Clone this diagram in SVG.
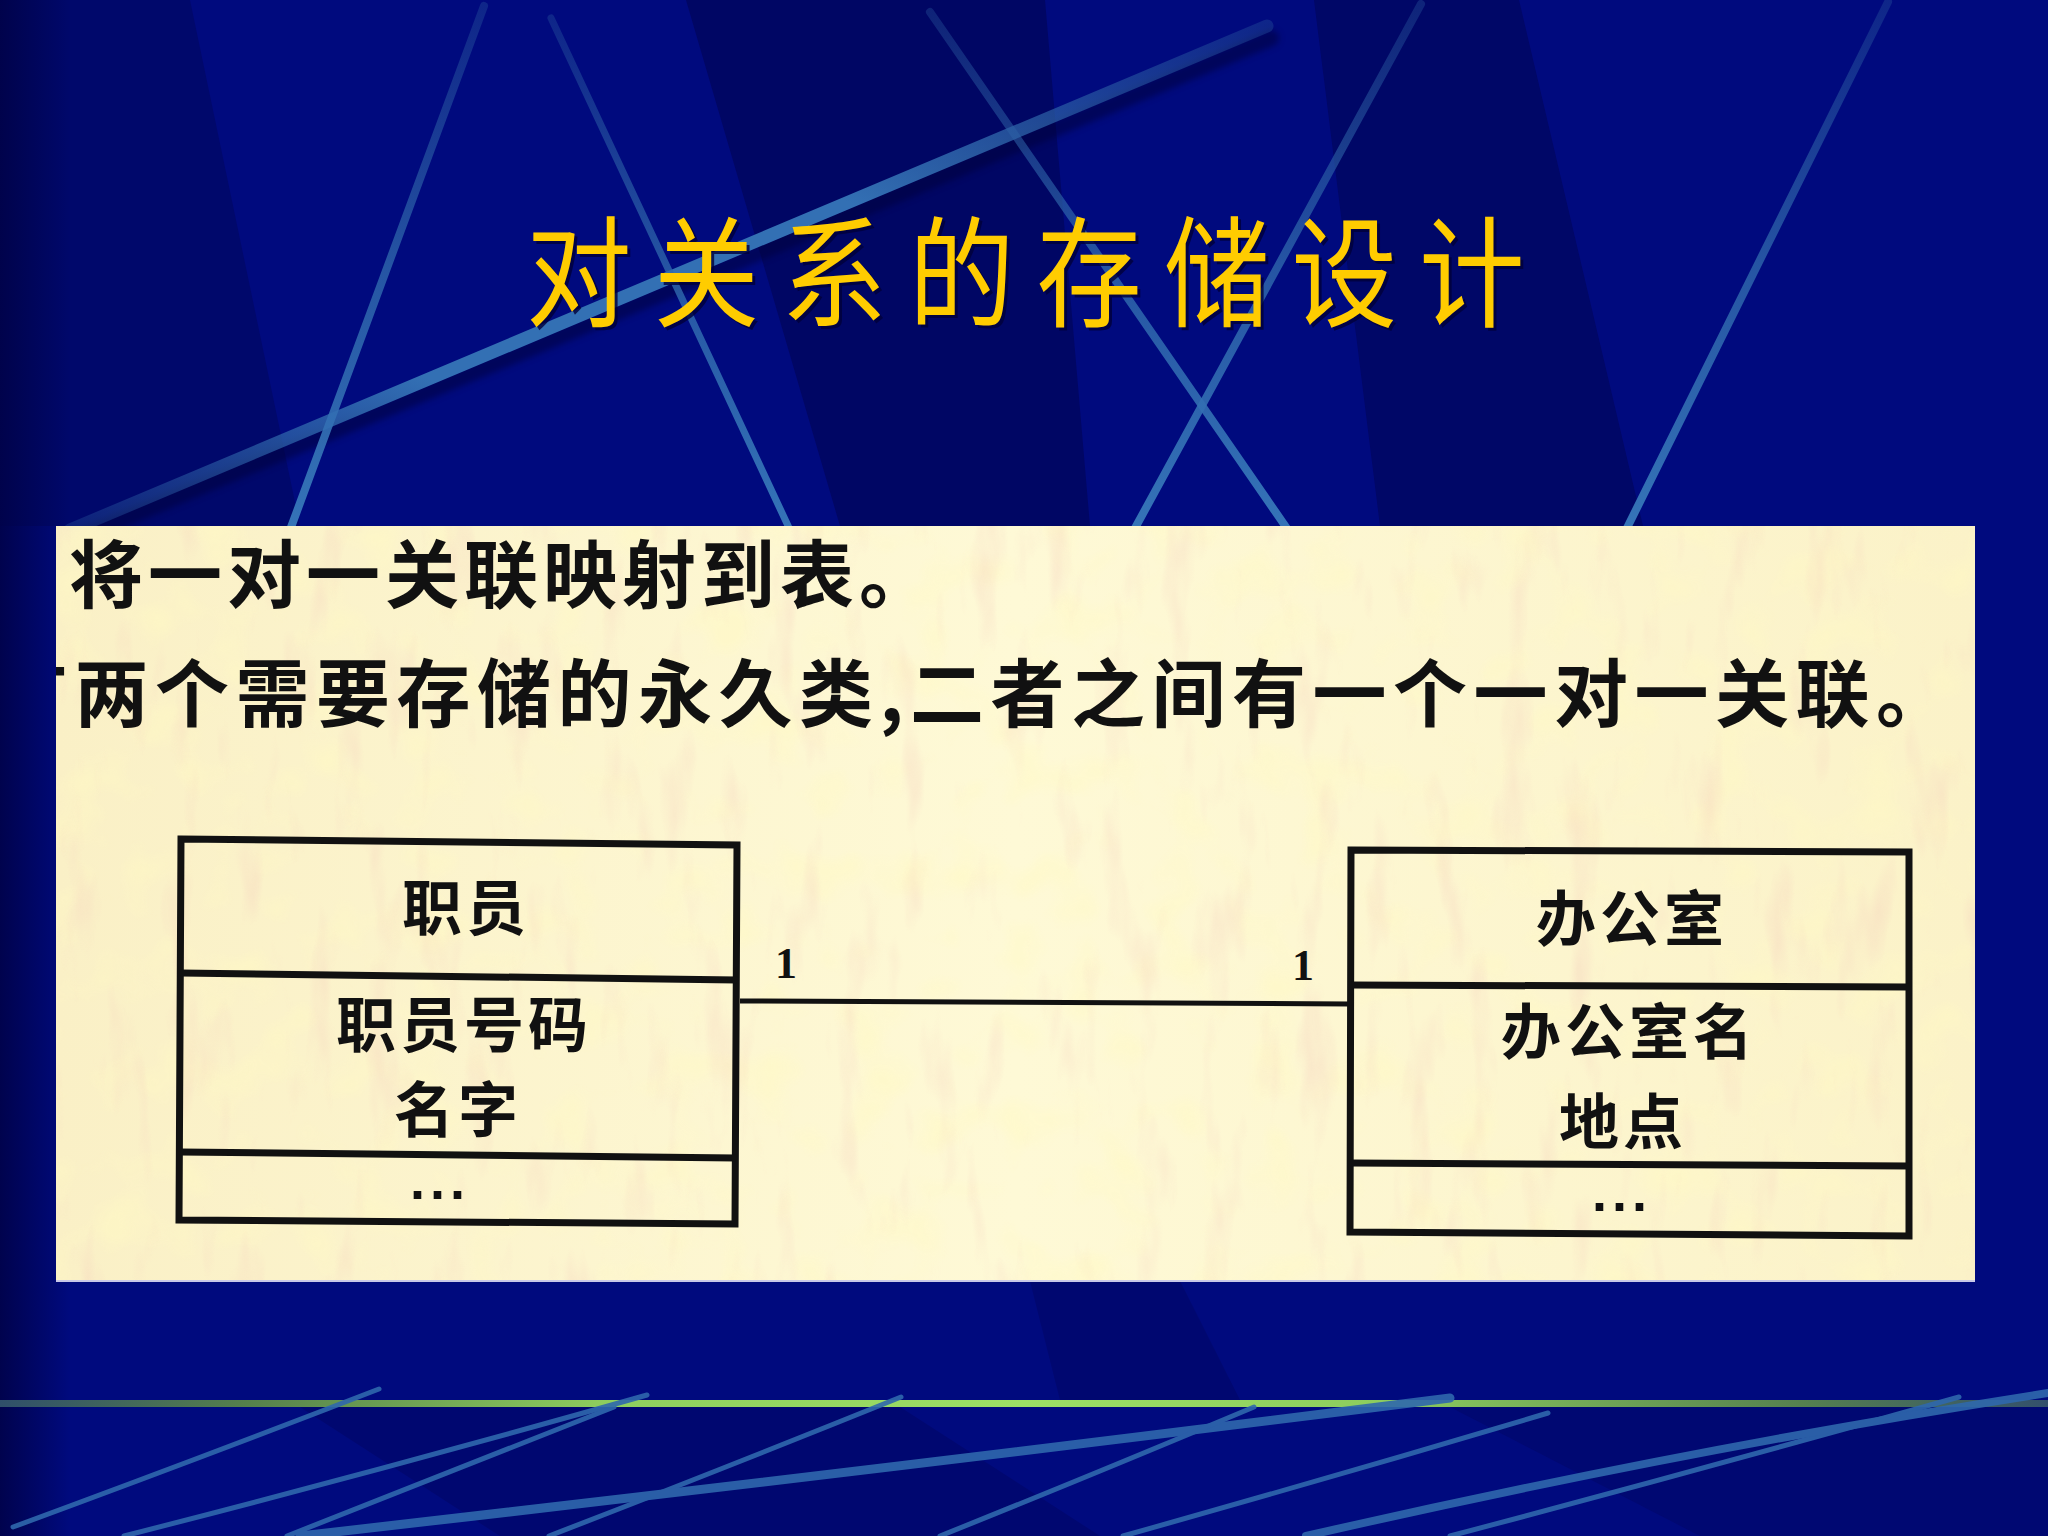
<svg xmlns="http://www.w3.org/2000/svg" width="2048" height="1536" viewBox="0 0 2048 1536">
<defs>
  <style>
    .bgline { fill: none; stroke-linecap: round; }
    .cn { font-family: "Noto Sans CJK SC", "Noto Sans", sans-serif; font-weight: 700; fill: #111; }
    .box { fill: none; stroke: #111; stroke-width: 7; stroke-linejoin: miter; }
    .div { stroke: #111; stroke-width: 7; }
    .attr { font-family: "Noto Sans CJK SC", sans-serif; font-weight: 700; font-size: 60px; fill: #111; text-anchor: middle; letter-spacing: 4px; }
    .mult { font-family: "Liberation Serif", serif; font-weight: 700; font-size: 44px; fill: #111; text-anchor: middle; }
    .dots { font-family: "Liberation Sans", sans-serif; font-weight: 700; font-size: 54px; fill: #111; text-anchor: middle; letter-spacing: 5px; }
    .title { font-family: "Noto Sans CJK SC", sans-serif; font-weight: 400; font-size: 120px; letter-spacing: 25px; }
  </style>
  <linearGradient id="vline" x1="0" y1="0" x2="0" y2="1">
    <stop offset="0" stop-color="#2a5a9e" stop-opacity="0.35"/>
    <stop offset="0.5" stop-color="#2f68ad" stop-opacity="0.8"/>
    <stop offset="1" stop-color="#3574b8"/>
  </linearGradient>
  <linearGradient id="thick" x1="1" y1="0" x2="0" y2="1">
    <stop offset="0" stop-color="#2a5a9e" stop-opacity="0.35"/>
    <stop offset="0.35" stop-color="#3370b4"/>
    <stop offset="0.7" stop-color="#3370b4"/>
    <stop offset="1" stop-color="#2a5a9e" stop-opacity="0.3"/>
  </linearGradient>
  <linearGradient id="green" x1="0" y1="0" x2="1" y2="0">
    <stop offset="0" stop-color="#2f4f6a"/>
    <stop offset="0.12" stop-color="#55804c"/>
    <stop offset="0.3" stop-color="#8fcf5e"/>
    <stop offset="0.5" stop-color="#9de065"/>
    <stop offset="0.68" stop-color="#8ccc5e"/>
    <stop offset="0.88" stop-color="#55804f"/>
    <stop offset="1" stop-color="#33506c"/>
  </linearGradient>
  <linearGradient id="bandL" x1="0" y1="0" x2="1" y2="0">
    <stop offset="0" stop-color="#000248" stop-opacity="0.9"/>
    <stop offset="1" stop-color="#000248" stop-opacity="0"/>
  </linearGradient>
  <linearGradient id="paperg" x1="0" y1="0" x2="1" y2="0">
    <stop offset="0" stop-color="#faf0c6"/>
    <stop offset="0.5" stop-color="#fef9d6"/>
    <stop offset="1" stop-color="#fbf2c8"/>
  </linearGradient>
  <filter id="paper" x="0" y="0" width="100%" height="100%">
    <feTurbulence type="fractalNoise" baseFrequency="0.03 0.008" numOctaves="3" seed="7" result="n"/>
    <feColorMatrix in="n" type="matrix" values="0 0 0 0 0.9  0 0 0 0 0.6  0 0 0 0 0.5  3.2 0 0 0 -1.8"/>
  </filter>
  <filter id="paper2" x="0" y="0" width="100%" height="100%">
    <feTurbulence type="fractalNoise" baseFrequency="0.02 0.02" numOctaves="2" seed="3" result="n"/>
    <feColorMatrix in="n" type="matrix" values="0 0 0 0 1  0 0 0 0 0.95  0 0 0 0 0.55  0 3 0 0 -1.5"/>
  </filter>
  <filter id="shadow" x="-5%" y="-5%" width="110%" height="120%">
    <feGaussianBlur stdDeviation="3"/>
  </filter>
  <clipPath id="panelClip"><rect x="56" y="526" width="1919" height="755"/></clipPath>
</defs>

<!-- background -->
<rect x="0" y="0" width="2048" height="1536" fill="#000a7e"/>
<polygon points="0,0 190,0 300,526 0,526" fill="#00044f" opacity="0.4"/>
<rect x="0" y="0" width="70" height="1536" fill="url(#bandL)"/>
<polygon points="686,0 1045,0 1090,526 840,526" fill="#00044f" opacity="0.55"/>
<polygon points="1314,0 1519,0 1643,526 1380,526" fill="#00044f" opacity="0.5"/>
<polygon points="1030,1281 1180,1281 1240,1400 1060,1400" fill="#00044f" opacity="0.3"/>
<polygon points="300,1407 900,1407 1100,1536 500,1536" fill="#00044f" opacity="0.3"/>
<polygon points="1450,1407 2048,1407 2048,1536 1700,1536" fill="#00044f" opacity="0.25"/>

<!-- top decorative lines -->
<g id="bg-lines">
  <line class="bgline" x1="1267" y1="28" x2="70" y2="530" stroke="#000338" stroke-width="16" opacity="0.5" transform="translate(4,10)" filter="url(#shadow)"/>
  <line class="bgline" x1="1267" y1="26" x2="70" y2="530" stroke="url(#thick)" stroke-width="13"/>
  <line class="bgline" x1="484" y1="6" x2="290" y2="530" stroke="url(#vline)" stroke-width="8"/>
  <line class="bgline" x1="551" y1="18" x2="790" y2="530" stroke="url(#vline)" stroke-width="7"/>
  <line class="bgline" x1="930" y1="12" x2="1288" y2="530" stroke="url(#vline)" stroke-width="8"/>
  <line class="bgline" x1="1421" y1="4" x2="1134" y2="530" stroke="url(#vline)" stroke-width="8"/>
  <line class="bgline" x1="1888" y1="2" x2="1626" y2="530" stroke="url(#vline)" stroke-width="8"/>
</g>

<!-- title -->
<g id="title">
  <text class="title" transform="translate(529,321) scale(0.88,1)" x="0" y="0" fill="#00003a" opacity="0.8">对关系的存储设计</text>
  <text class="title" transform="translate(526,318) scale(0.88,1)" x="0" y="0" fill="#ffcc00">对关系的存储设计</text>
</g>

<!-- scanned panel -->
<g id="panel">
  <rect x="56" y="526" width="1919" height="755" fill="url(#paperg)"/>
  <rect x="56" y="526" width="1919" height="755" filter="url(#paper2)" opacity="0.5"/>
  <rect x="56" y="526" width="1919" height="755" filter="url(#paper)" opacity="0.3"/>
  <line x1="56" y1="1281" x2="1975" y2="1281" stroke="#c8c8e8" stroke-width="2"/>
  <g clip-path="url(#panelClip)">
    <text class="cn" x="69" y="602" font-size="74" letter-spacing="5">将一对一关联映射到表。</text>
    <text class="cn" x="-6" y="721" font-size="74" letter-spacing="6.5">有两个需要存储的永久类,二者之间有一个一对一关联。</text>
  </g>
</g>

<!-- connectors -->
<g id="connectors">
  <line x1="740" y1="1001" x2="1350" y2="1004" stroke="#111" stroke-width="5"/>
  <text class="mult" x="786" y="978">1</text>
  <text class="mult" x="1303" y="980">1</text>
</g>

<!-- node: 职员 -->
<g id="node-employee">
  <polygon class="box" points="181,839 737,845 735,1224 179,1220"/>
  <line class="div" x1="181" y1="973" x2="737" y2="980"/>
  <line class="div" x1="180" y1="1152" x2="736" y2="1158"/>
  <text class="attr" x="466" y="930">职员</text>
  <text class="attr" x="464" y="1047">职员号码</text>
  <text class="attr" x="458" y="1132">名字</text>
  <text class="dots" x="440" y="1199">...</text>
</g>

<!-- node: 办公室 -->
<g id="node-office">
  <polygon class="box" points="1351,850 1909,852 1909,1236 1350,1232"/>
  <line class="div" x1="1351" y1="985" x2="1909" y2="987"/>
  <line class="div" x1="1350" y1="1163" x2="1909" y2="1166"/>
  <text class="attr" x="1632" y="941">办公室</text>
  <text class="attr" x="1629" y="1054">办公室名</text>
  <text class="attr" x="1623" y="1144">地点</text>
  <text class="dots" x="1622" y="1211">...</text>
</g>

<!-- bottom decoration -->
<g id="bottom-deco">
  <rect x="0" y="1400" width="2048" height="7" fill="url(#green)"/>
  <g stroke="#2f68ad" fill="none" stroke-linecap="round" opacity="0.9">
    <path d="M379,1389 Q190,1462 13,1527" stroke-width="5"/>
    <path d="M647,1395 Q390,1468 124,1536" stroke-width="5"/>
    <path d="M614,1407 Q440,1475 287,1536" stroke-width="5"/>
    <path d="M901,1397 Q720,1470 549,1536" stroke-width="5"/>
    <path d="M1450,1398 Q880,1470 300,1536" stroke-width="9"/>
    <path d="M1254,1407 Q1080,1480 940,1536" stroke-width="5"/>
    <path d="M1548,1413 Q1340,1475 1123,1536" stroke-width="5"/>
    <path d="M1959,1397 Q1700,1470 1450,1536" stroke-width="5"/>
    <path d="M2048,1393 Q1680,1450 1306,1536" stroke-width="8"/>
  </g>
</g>
</svg>
